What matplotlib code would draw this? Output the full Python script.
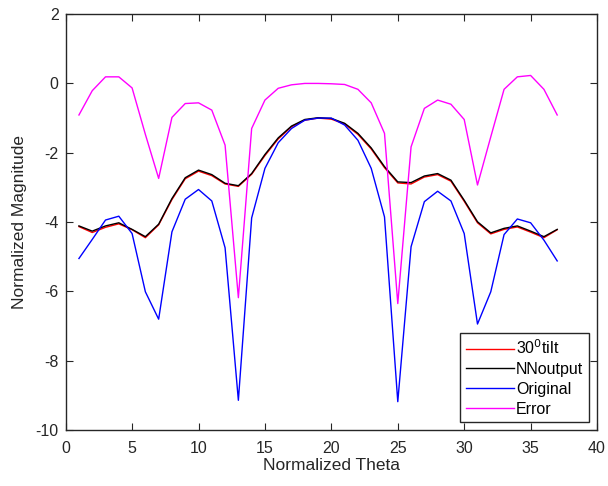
import numpy as np
import matplotlib
matplotlib.use('Agg')
import matplotlib.pyplot as plt

plt.rcParams['font.family'] = ['Liberation Sans', 'DejaVu Sans']
plt.rcParams['axes.unicode_minus'] = False

# Data
theta = list(range(1, 38))

tilt30 = [-4.13, -4.30, -4.15, -4.05, -4.22, -4.45, -4.08, -3.35, -2.75, -2.53,
          -2.66, -2.90, -2.97, -2.62, -2.08, -1.60, -1.25, -1.06, -1.00, -1.03,
          -1.17, -1.47, -1.89, -2.43, -2.87, -2.90, -2.70, -2.63, -2.82, -3.40,
          -4.02, -4.34, -4.21, -4.14, -4.29, -4.45, -4.22]
nn_output = [-4.11, -4.26, -4.11, -4.02, -4.21, -4.42, -4.06, -3.32, -2.72, -2.50,
             -2.63, -2.88, -2.95, -2.60, -2.05, -1.57, -1.23, -1.04, -0.99, -1.01,
             -1.15, -1.44, -1.86, -2.40, -2.84, -2.86, -2.67, -2.60, -2.79, -3.37,
             -3.99, -4.31, -4.18, -4.11, -4.26, -4.42, -4.21]
original = [-5.05, -4.50, -3.94, -3.83, -4.33, -6.01, -6.80, -4.28, -3.34, -3.06,
            -3.39, -4.74, -9.14, -3.88, -2.45, -1.71, -1.30, -1.06, -1.00, -1.00,
            -1.20, -1.64, -2.45, -3.85, -9.18, -4.71, -3.41, -3.11, -3.39, -4.33,
            -6.94, -6.01, -4.36, -3.91, -4.02, -4.52, -5.12]
error = [-0.91, -0.21, 0.19, 0.19, -0.13, -1.47, -2.74, -0.98, -0.58, -0.56,
         -0.77, -1.78, -6.18, -1.30, -0.48, -0.14, -0.04, 0.00, 0.00, -0.01,
         -0.03, -0.17, -0.56, -1.44, -6.35, -1.83, -0.72, -0.48, -0.60, -1.04,
         -2.93, -1.54, -0.17, 0.19, 0.23, -0.17, -0.91]

fig = plt.figure(figsize=(6.08, 4.86), dpi=100)
ax = fig.add_axes([0.108, 0.115, 0.874, 0.856])

ax.plot(theta, tilt30, color='#ff0000', lw=1.0, label='30$^0$tilt')
ax.plot(theta, nn_output, color='#000000', lw=1.0, label='NNoutput')
ax.plot(theta, original, color='#0000ff', lw=1.0, label='Original')
ax.plot(theta, error, color='#ff00ff', lw=1.0, label='Error')

ax.set_xlim(0, 40)
ax.set_ylim(-10, 2)
ax.set_xticks(np.arange(0, 41, 5))
ax.set_yticks(np.arange(-10, 3, 2))
ax.tick_params(direction='in', top=True, right=True, labelsize=11.5, length=5,
               colors='#262626')
ax.tick_params(axis='x', pad=8)
ax.tick_params(axis='y', pad=5)
for s in ax.spines.values():
    s.set_color('#262626')
    s.set_linewidth(1.0)

ax.set_xlabel('Normalized Theta', fontsize=12.5, labelpad=1, color='#262626')
ax.set_ylabel('Normalized Magnitude', fontsize=12.5, labelpad=6, color='#262626')

leg = ax.legend(loc='lower right', fontsize=11.5, handlelength=3.0,
                handletextpad=0.15, borderpad=0.35, labelspacing=0.3,
                fancybox=False, framealpha=1, borderaxespad=0.5)
leg.get_frame().set_edgecolor('#262626')
leg.get_frame().set_linewidth(1.0)

plt.savefig('out.png', dpi=100)
